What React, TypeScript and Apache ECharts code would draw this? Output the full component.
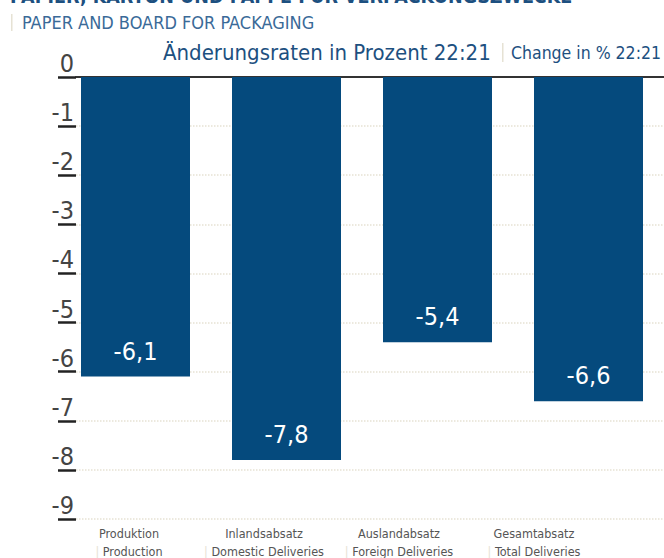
import React, { useEffect, useRef } from "react";
import * as echarts from "echarts";

const categoriesDe = ["Produktion", "Inlandsabsatz", "Auslandabsatz", "Gesamtabsatz"];
const categoriesEn = ["Production", "Domestic Deliveries", "Foreign Deliveries", "Total Deliveries"];
const values = [-6.1, -7.8, -5.4, -6.6];
const yMin = -9;
const yMax = 0;
const yStep = 1;

const FONT = "'DejaVu Sans Condensed', 'Liberation Sans Narrow', Roboto, sans-serif";
const BLUE = "#054a7d";
const TITLE_BLUE = "#1d5080";
const SEP = "#e6e2d4";

export default function App() {
  const ref = useRef<HTMLDivElement>(null);
  useEffect(() => {
    if (!ref.current) return;
    const chart = echarts.init(ref.current, null, { renderer: "svg" });
    const gridBase = { top: 77, bottom: 39 };
    chart.setOption({
      animation: false,
      grid: [
        { ...gridBase, left: 76, right: 0 },
        { ...gridBase, left: 60, right: 0 },
        { ...gridBase, left: 61.5, right: 62.5 },
      ],
      xAxis: [
        {
          gridIndex: 0,
          type: "category",
          position: "top",
          data: categoriesDe,
          axisLine: { show: true, lineStyle: { color: "#333", width: 2 } },
          axisTick: { show: false },
          axisLabel: { show: false },
        },
        {
          gridIndex: 1,
          type: "category",
          data: categoriesDe,
          axisLine: { show: false },
          axisTick: { show: false },
          axisLabel: { show: false },
        },
        {
          gridIndex: 2,
          type: "category",
          data: categoriesDe.map((d, i) => d + "\n" + categoriesEn[i]),
          axisLine: { show: false },
          axisTick: { show: false },
          axisLabel: {
            margin: 7,
            interval: 0,
            formatter: (v: string) => {
              const [a, b] = v.split("\n");
              return `{a|${a}}\n{s|| }{a|${b}}`;
            },
            rich: {
              a: { fontFamily: FONT, fontSize: 12.5, color: "#555", lineHeight: 18 },
              s: { fontFamily: FONT, fontSize: 12.5, color: SEP, lineHeight: 18 },
            },
          },
        },
      ],
      yAxis: [
        {
          gridIndex: 0,
          type: "value",
          min: yMin,
          max: yMax,
          interval: yStep,
          axisLine: { show: false },
          axisTick: { show: true, length: 18, lineStyle: { color: "#222", width: 2.5 } },
          splitLine: { show: true, lineStyle: { color: SEP, type: "dotted", width: 1.5 } },
          axisLabel: {
            fontFamily: FONT,
            fontSize: 25,
            color: "#444",
            align: "right",
            verticalAlign: "bottom",
            margin: 2,
            padding: [0, 0, 1, 0],
            formatter: (v: number) => String(v),
          },
        },
        { gridIndex: 1, type: "value", min: yMin, max: yMax, interval: yStep, show: false },
        { gridIndex: 2, type: "value", min: yMin, max: yMax, interval: yStep, show: false },
      ],
      series: [
        {
          type: "bar",
          xAxisIndex: 1,
          yAxisIndex: 1,
          data: values,
          barWidth: 109,
          itemStyle: { color: BLUE },
          label: {
            show: true,
            position: "insideBottom",
            distance: 13,
            fontFamily: FONT,
            fontSize: 25,
            color: "#fff",
            formatter: (p: any) => String(p.value).replace(".", ","),
          },
        },
      ],
      graphic: [
        {
          type: "text",
          x: 10,
          y: 6,
          style: {
            text: "PAPIER, KARTON UND PAPPE FÜR VERPACKUNGSZWECKE",
            fontFamily: FONT,
            fontWeight: "bold",
            fontSize: 19.5,
            fill: TITLE_BLUE,
            verticalAlign: "bottom",
          },
        },
        { type: "rect", shape: { x: 11, y: 14, width: 1.5, height: 17 }, style: { fill: SEP } },
        {
          type: "text",
          x: 22,
          y: 22,
          style: {
            text: "PAPER AND BOARD FOR PACKAGING",
            fontFamily: FONT,
            fontSize: 18,
            fill: "#3a6a98",
            verticalAlign: "middle",
          },
        },
        {
          type: "text",
          x: 163,
          y: 52,
          style: {
            text: "Änderungsraten in Prozent 22:21",
            fontFamily: FONT,
            fontSize: 22,
            fill: TITLE_BLUE,
            verticalAlign: "middle",
          },
        },
        { type: "rect", shape: { x: 502, y: 43, width: 1.5, height: 19 }, style: { fill: SEP } },
        {
          type: "text",
          x: 511,
          y: 53,
          style: {
            text: "Change in % 22:21",
            fontFamily: FONT,
            fontSize: 17.5,
            fill: TITLE_BLUE,
            verticalAlign: "middle",
          },
        },
      ],
    });
    return () => chart.dispose();
  }, []);
  return (
    <div
      ref={ref}
      style={{ position: "absolute", left: 0, top: 0, width: 664, height: 558 }}
    />
  );
}
